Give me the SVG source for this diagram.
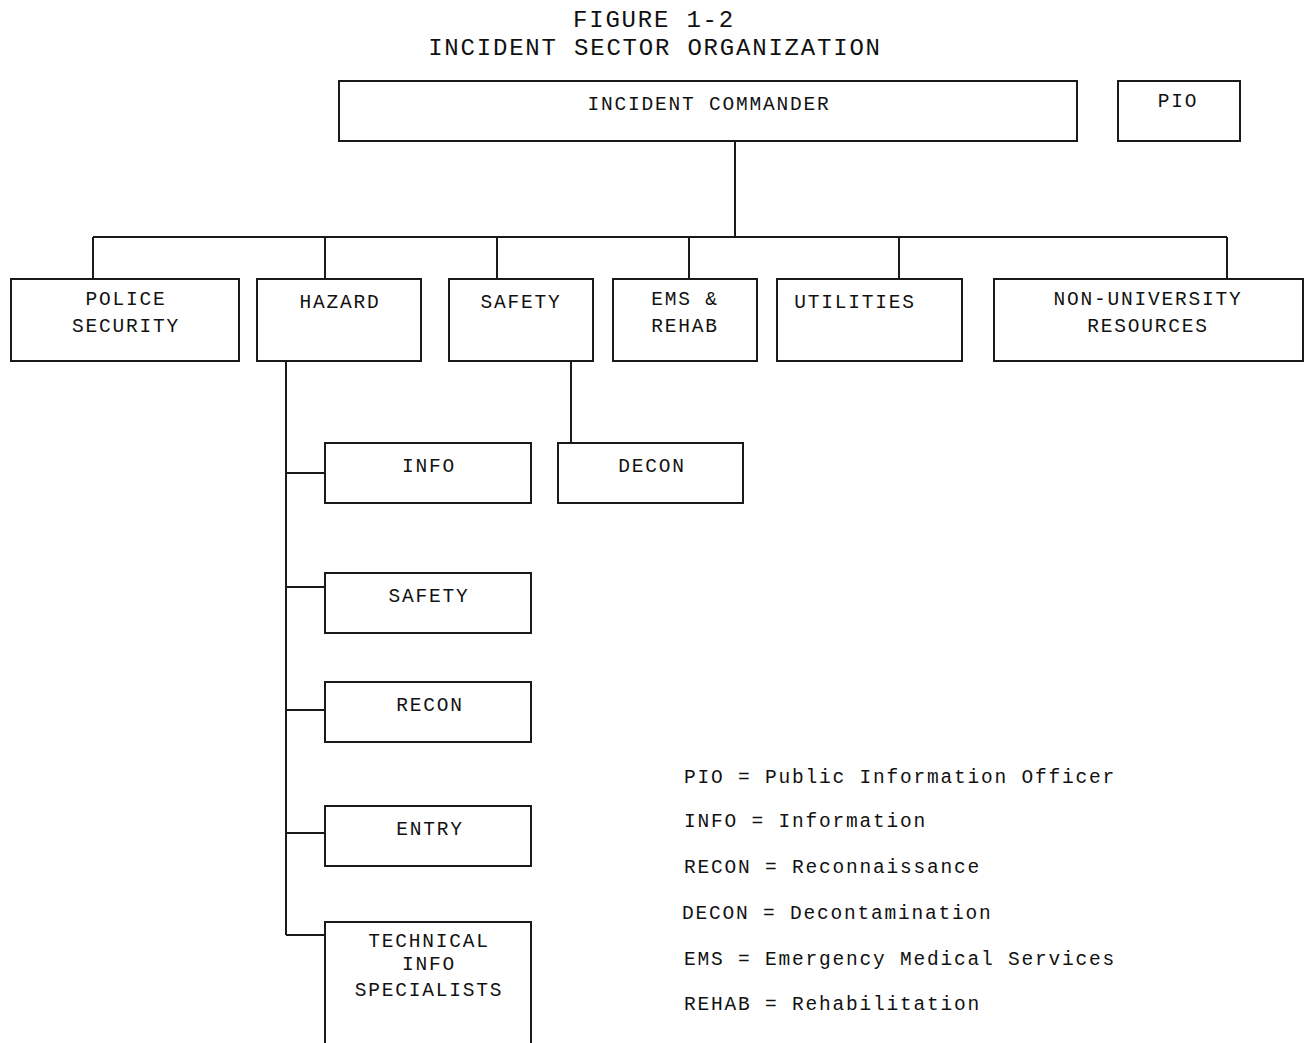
<svg xmlns="http://www.w3.org/2000/svg" width="1307" height="1043" viewBox="0 0 1307 1043">
<style>
rect.box{fill:#fff;stroke:#1a1a1a;stroke-width:2}
.c line, .c path{stroke:#1a1a1a;stroke-width:2;fill:none}
text{font-family:"Liberation Mono","DejaVu Sans Mono",monospace;fill:#111;font-size:19.5px;letter-spacing:1.8px}
.m{text-anchor:middle}
.t{font-size:24px;letter-spacing:1.8px}
</style>
<rect width="1307" height="1043" fill="#fff"/>
<g id="title">
<text class="m t" x="654" y="27">FIGURE 1-2</text>
<text class="m t" x="655" y="55">INCIDENT SECTOR ORGANIZATION</text>
</g>
<g class="c" id="connectors">
<line x1="735" y1="141" x2="735" y2="237"/>
<line x1="93" y1="237" x2="1227" y2="237"/>
<line x1="93" y1="237" x2="93" y2="279"/>
<line x1="325" y1="237" x2="325" y2="279"/>
<line x1="497" y1="237" x2="497" y2="279"/>
<line x1="689" y1="237" x2="689" y2="279"/>
<line x1="899" y1="237" x2="899" y2="279"/>
<line x1="1227" y1="237" x2="1227" y2="279"/>
<line x1="286" y1="361" x2="286" y2="935"/>
<line x1="286" y1="473" x2="325" y2="473"/>
<line x1="286" y1="587" x2="325" y2="587"/>
<line x1="286" y1="710" x2="325" y2="710"/>
<line x1="286" y1="833" x2="325" y2="833"/>
<line x1="286" y1="935" x2="325" y2="935"/>
<line x1="571" y1="361" x2="571" y2="443"/>
</g>
<g id="ic"><rect class="box" x="339" y="81" width="738" height="60"/><text class="m" x="709" y="110">INCIDENT COMMANDER</text></g>
<g id="pio"><rect class="box" x="1118" y="81" width="122" height="60"/><text class="m" x="1178" y="107">PIO</text></g>
<g id="police"><rect class="box" x="11" y="279" width="228" height="82"/><text class="m" x="126" y="305">POLICE</text><text class="m" x="126" y="332">SECURITY</text></g>
<g id="hazard"><rect class="box" x="257" y="279" width="164" height="82"/><text class="m" x="340" y="308">HAZARD</text></g>
<g id="safety"><rect class="box" x="449" y="279" width="144" height="82"/><text class="m" x="521" y="308">SAFETY</text></g>
<g id="ems"><rect class="box" x="613" y="279" width="144" height="82"/><text class="m" x="685" y="305">EMS &amp;</text><text class="m" x="685" y="332">REHAB</text></g>
<g id="utilities"><rect class="box" x="777" y="279" width="185" height="82"/><text class="m" x="855" y="308">UTILITIES</text></g>
<g id="nonuniv"><rect class="box" x="994" y="279" width="309" height="82"/><text class="m" x="1148" y="305">NON-UNIVERSITY</text><text class="m" x="1148" y="332">RESOURCES</text></g>
<g id="info"><rect class="box" x="325" y="443" width="206" height="60"/><text class="m" x="429" y="472">INFO</text></g>
<g id="decon"><rect class="box" x="558" y="443" width="185" height="60"/><text class="m" x="652" y="472">DECON</text></g>
<g id="safety2"><rect class="box" x="325" y="573" width="206" height="60"/><text class="m" x="429" y="602">SAFETY</text></g>
<g id="recon"><rect class="box" x="325" y="682" width="206" height="60"/><text class="m" x="430" y="711">RECON</text></g>
<g id="entry"><rect class="box" x="325" y="806" width="206" height="60"/><text class="m" x="430" y="835">ENTRY</text></g>
<g id="tech"><rect class="box" x="325" y="922" width="206" height="140"/><text class="m" x="429" y="947">TECHNICAL</text><text class="m" x="429" y="970">INFO</text><text class="m" x="429" y="996">SPECIALISTS</text></g>
<g id="legend">
<text x="684" y="783">PIO = Public Information Officer</text>
<text x="684" y="827">INFO = Information</text>
<text x="684" y="873">RECON = Reconnaissance</text>
<text x="682" y="919">DECON = Decontamination</text>
<text x="684" y="965">EMS = Emergency Medical Services</text>
<text x="684" y="1010">REHAB = Rehabilitation</text>
</g>
</svg>
